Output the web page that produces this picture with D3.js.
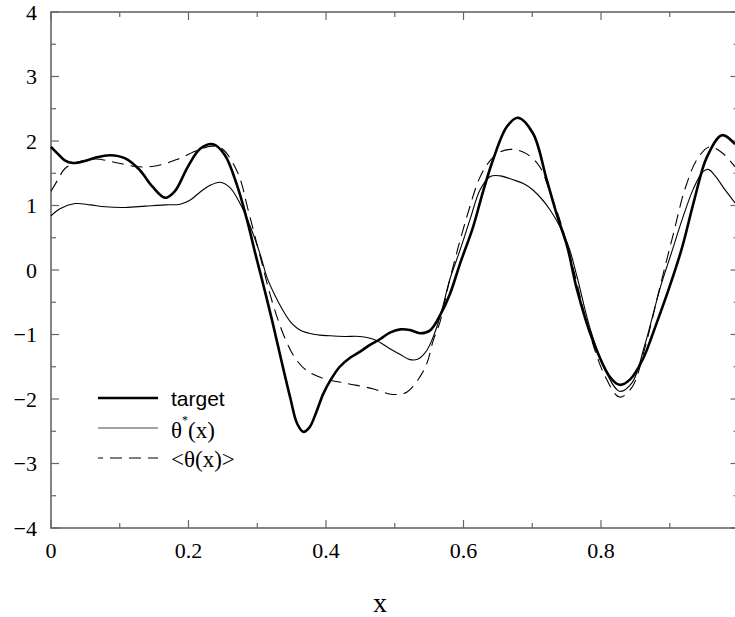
<!DOCTYPE html>
<html>
<head>
<meta charset="utf-8">
<script src="https://cdn.jsdelivr.net/npm/d3@7"></script>
<style>
  body { margin: 0; background: #fff; }
</style>
</head>
<body>
<div class="chart"></div>
<script>
var width = 735;
var height = 617;
var margin = {top: 12, left: 51, bottom: 89};
var plotW = 687.5, plotH = 516;
var SERIF = "Liberation Serif";
var SANS = "Liberation Sans";

// target function
var targetX = [0, 0.010, 0.020, 0.032, 0.049, 0.064, 0.086, 0.108, 0.129, 0.147, 0.166, 0.180, 0.199, 0.217, 0.236, 0.253, 0.271, 0.285, 0.298, 0.310, 0.322, 0.335, 0.348, 0.358, 0.367, 0.376, 0.386, 0.396, 0.407, 0.420, 0.435, 0.449, 0.464, 0.479, 0.493, 0.508, 0.522, 0.537, 0.551, 0.566, 0.580, 0.595, 0.614, 0.628, 0.643, 0.663, 0.679, 0.701, 0.721, 0.736, 0.751, 0.765, 0.788, 0.813, 0.827, 0.842, 0.861, 0.880, 0.900, 0.918, 0.936, 0.954, 0.976, 0.995];
var targetY = [1.91, 1.80, 1.70, 1.66, 1.69, 1.74, 1.78, 1.73, 1.55, 1.30, 1.12, 1.22, 1.60, 1.88, 1.95, 1.78, 1.30, 0.78, 0.22, -0.28, -0.80, -1.40, -1.98, -2.38, -2.51, -2.44, -2.20, -1.92, -1.70, -1.50, -1.36, -1.27, -1.16, -1.07, -0.97, -0.92, -0.93, -0.98, -0.94, -0.70, -0.38, 0.10, 0.67, 1.20, 1.71, 2.22, 2.36, 2.12, 1.40, 0.85, 0.36, -0.30, -1.09, -1.66, -1.78, -1.70, -1.38, -0.85, -0.25, 0.35, 1.10, 1.75, 2.09, 1.95];

// theta*(x)
var starX = [0, 0.013, 0.035, 0.057, 0.079, 0.108, 0.137, 0.166, 0.188, 0.202, 0.217, 0.231, 0.246, 0.260, 0.275, 0.290, 0.305, 0.314, 0.326, 0.337, 0.348, 0.362, 0.384, 0.406, 0.428, 0.449, 0.471, 0.493, 0.508, 0.522, 0.534, 0.547, 0.559, 0.569, 0.580, 0.595, 0.610, 0.624, 0.639, 0.653, 0.672, 0.687, 0.701, 0.726, 0.751, 0.765, 0.784, 0.806, 0.827, 0.845, 0.864, 0.886, 0.902, 0.918, 0.934, 0.948, 0.956, 0.966, 0.980, 0.995];
var starY = [0.84, 0.95, 1.03, 1.01, 0.98, 0.97, 0.99, 1.01, 1.02, 1.08, 1.21, 1.31, 1.36, 1.28, 1.03, 0.67, 0.22, -0.11, -0.40, -0.62, -0.80, -0.93, -1.00, -1.02, -1.03, -1.03, -1.08, -1.22, -1.31, -1.39, -1.38, -1.24, -0.95, -0.60, -0.15, 0.31, 0.80, 1.24, 1.45, 1.46, 1.40, 1.34, 1.24, 0.93, 0.42, -0.10, -0.90, -1.55, -1.88, -1.75, -1.15, -0.28, 0.25, 0.78, 1.25, 1.52, 1.56, 1.46, 1.25, 1.04];

// <theta(x)>
var meanX = [0, 0.010, 0.020, 0.035, 0.064, 0.097, 0.127, 0.156, 0.185, 0.214, 0.234, 0.249, 0.272, 0.287, 0.304, 0.322, 0.340, 0.356, 0.372, 0.396, 0.431, 0.468, 0.497, 0.518, 0.537, 0.547, 0.556, 0.566, 0.580, 0.605, 0.624, 0.639, 0.653, 0.672, 0.692, 0.711, 0.726, 0.740, 0.759, 0.784, 0.806, 0.827, 0.845, 0.864, 0.886, 0.905, 0.922, 0.940, 0.958, 0.977, 0.995];
var meanY = [1.22, 1.40, 1.57, 1.66, 1.72, 1.66, 1.60, 1.62, 1.72, 1.86, 1.92, 1.88, 1.50, 0.92, 0.22, -0.50, -1.05, -1.38, -1.56, -1.68, -1.76, -1.84, -1.93, -1.89, -1.65, -1.44, -1.09, -0.80, -0.15, 0.83, 1.44, 1.70, 1.83, 1.87, 1.80, 1.60, 1.20, 0.78, 0.05, -1.00, -1.65, -1.97, -1.82, -1.20, -0.25, 0.55, 1.25, 1.72, 1.91, 1.81, 1.60];

var yTicks = [-4, -3, -2, -1, 0, 1, 2, 3, 4];
var xTicks = [0, 0.2, 0.4, 0.6, 0.8];

var svg = d3.select(".chart").append("svg")
    .attr("width", width)
    .attr("height", height);

var g = svg.append("g")
    .attr("transform", "translate(" + margin.left + "," + margin.top + ")");

var x = d3.scaleLinear().domain([0, 1]).range([0, plotW]);
var y = d3.scaleLinear().domain([-4, 4]).range([plotH, 0]);

var axisColor = "#666";
var fmtY = function(d) { return d < 0 ? "\u2212" + Math.abs(d) : d; };

// frame
g.append("rect")
    .attr("width", plotW).attr("height", plotH)
    .attr("fill", "none").attr("stroke", axisColor).attr("stroke-width", 1.6);

// ticks (inward), minor and major, on all four sides
var xMinor = d3.range(0, 1.0001, 0.1);
var yMinor = d3.range(-4, 4.0001, 0.5);

function tickLen(isMajor) { return isMajor ? 8 : 5; }

xMinor.forEach(function(v) {
  var major = Math.abs(v * 5 - Math.round(v * 5)) < 1e-6;
  g.append("line").attr("x1", x(v)).attr("x2", x(v))
    .attr("y1", plotH).attr("y2", plotH - tickLen(major))
    .attr("stroke", axisColor).attr("stroke-width", 1.2);
  g.append("line").attr("x1", x(v)).attr("x2", x(v))
    .attr("y1", 0).attr("y2", tickLen(major))
    .attr("stroke", axisColor).attr("stroke-width", 1.2);
});
yMinor.forEach(function(v) {
  var major = Math.abs(v - Math.round(v)) < 1e-6;
  g.append("line").attr("y1", y(v)).attr("y2", y(v))
    .attr("x1", 0).attr("x2", tickLen(major))
    .attr("stroke", axisColor).attr("stroke-width", 1.2);
  g.append("line").attr("y1", y(v)).attr("y2", y(v))
    .attr("x1", plotW).attr("x2", plotW - tickLen(major))
    .attr("stroke", axisColor).attr("stroke-width", 1.2);
});

// tick labels
g.selectAll(".ylab").data(yTicks).enter().append("text")
    .attr("class", "ylab")
    .attr("x", -14).attr("y", function(d) { return y(d); })
    .attr("dy", "0.35em")
    .attr("text-anchor", "end")
    .attr("font-family", SERIF)
    .attr("font-size", 22)
    .text(fmtY);

g.selectAll(".xlab").data(xTicks).enter().append("text")
    .attr("class", "xlab")
    .attr("x", function(d) { return x(d); })
    .attr("y", plotH + 30)
    .attr("text-anchor", "middle")
    .attr("font-family", SERIF)
    .attr("font-size", 22)
    .text(function(d) { return d; });

svg.append("text")
    .attr("x", 380).attr("y", 612)
    .attr("text-anchor", "middle")
    .attr("font-family", SERIF)
    .attr("font-size", 28)
    .text("x");

// curves
var line = d3.line()
    .x(function(d) { return x(d[0]); })
    .y(function(d) { return y(d[1]); })
    .curve(d3.curveCatmullRom.alpha(0.5));

var series = [
  {name: "star", xs: starX, ys: starY, w: 1.1, dash: null},
  {name: "mean", xs: meanX, ys: meanY, w: 1.1, dash: "12,7"},
  {name: "target", xs: targetX, ys: targetY, w: 2.6, dash: null}
];

g.selectAll(".curve").data(series).enter().append("path")
    .attr("class", "curve")
    .attr("d", function(s) { return line(d3.zip(s.xs, s.ys)); })
    .attr("fill", "none")
    .attr("stroke", "#000")
    .attr("stroke-width", function(s) { return s.w; })
    .attr("stroke-dasharray", function(s) { return s.dash; });

// legend
var leg = svg.append("g");
var legItems = [
  {y: 398, w: 2.6, dash: null, color: "#000"},
  {y: 428, w: 1.1, dash: null, color: "#444"},
  {y: 458, w: 1.1, dash: "12,7", color: "#000"}
];
leg.selectAll("line").data(legItems).enter().append("line")
    .attr("x1", 98).attr("x2", 158)
    .attr("y1", function(d) { return d.y; }).attr("y2", function(d) { return d.y; })
    .attr("stroke", function(d) { return d.color; })
    .attr("stroke-width", function(d) { return d.w; })
    .attr("stroke-dasharray", function(d) { return d.dash; })
    .attr("stroke-dashoffset", function(d) { return d.dash ? 7 : 0; });

leg.append("text").attr("x", 171).attr("y", 406)
    .attr("font-family", SANS)
    .attr("font-size", 21)
    .text("target");

var t2 = leg.append("text").attr("x", 171).attr("y", 438)
    .attr("font-family", SERIF)
    .attr("font-size", 23);
t2.append("tspan").text("\u03b8");
t2.append("tspan").attr("dy", -14).attr("font-size", 12).text("*");
t2.append("tspan").attr("dy", 14).text("(x)");

leg.append("text").attr("x", 171).attr("y", 467)
    .attr("font-family", SERIF)
    .attr("font-size", 23)
    .text("<\u03b8(x)>");
</script>
</body>
</html>
